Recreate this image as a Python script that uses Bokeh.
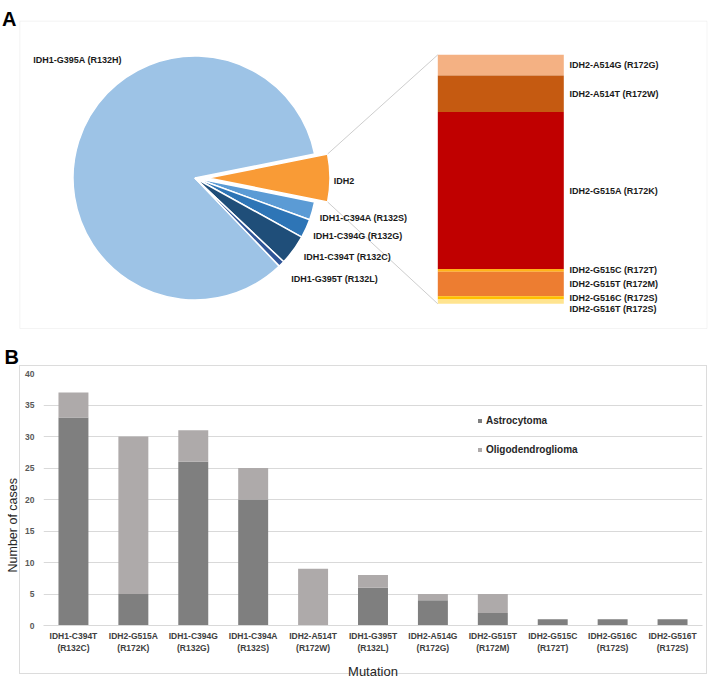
import numpy as np
from bokeh.plotting import figure
from bokeh.layouts import column
from bokeh.models import (ColumnDataSource, Range1d, FixedTicker, Title,
                          Legend, LegendItem, BoxAnnotation)
from bokeh.core.properties import value
from bokeh.embed import file_html
from bokeh.resources import INLINE

FONT = "Liberation Sans"

# ---------------- Panel A data ----------------
pie_labels = ["IDH1-G395A (R132H)", "IDH2", "IDH1-C394A (R132S)",
              "IDH1-C394G (R132G)", "IDH1-C394T (R132C)", "IDH1-G395T (R132L)"]
pie_values = [84.0, 6.3, 2.4, 2.5, 4.0, 0.8]          # percent of cases
pie_colors = ["#9DC3E6", "#F99B36", "#5B9BD5", "#2E75B6", "#1F4E79", "#2F5597"]

idh2_labels = ["IDH2-A514G (R172G)", "IDH2-A514T (R172W)", "IDH2-G515A (R172K)",
               "IDH2-G515C (R172T)", "IDH2-G515T (R172M)", "IDH2-G516C (R172S)",
               "IDH2-G516T (R172S)"]
idh2_values = [8.3, 14.7, 63.0, 1.1, 9.9, 1.3, 1.7]   # percent of IDH2
idh2_colors = ["#F4B183", "#C55A11", "#C00000", "#FFB31A", "#ED7D31", "#FFC000", "#FFE48F"]

# ---------------- Panel B data ----------------
mutations = ["IDH1-C394T\n(R132C)", "IDH2-G515A\n(R172K)", "IDH1-C394G\n(R132G)",
             "IDH1-C394A\n(R132S)", "IDH2-A514T\n(R172W)", "IDH1-G395T\n(R132L)",
             "IDH2-A514G\n(R172G)", "IDH2-G515T\n(R172M)", "IDH2-G515C\n(R172T)",
             "IDH2-G516C\n(R172S)", "IDH2-G516T\n(R172S)"]
astrocytoma = [33, 5, 26, 20, 0, 6, 4, 2, 1, 1, 1]
oligodendroglioma = [4, 25, 5, 5, 9, 2, 1, 3, 0, 0, 0]
y_ticks = [0, 5, 10, 15, 20, 25, 30, 35, 40]

W = 709
HA = 336
HB = 345

# =============== Figure A ===============
pa = figure(width=W, height=HA, x_range=Range1d(0, W), y_range=Range1d(0, HA),
            output_backend="svg", toolbar_location=None, min_border=0,
            x_axis_location=None, y_axis_location=None)
pa.grid.visible = False
pa.outline_line_color = None


def P(px, py):
    return px, HA - py


fl, ft = P(19.3, 20.7)
fr, fb = P(706.5, 328)
pa.add_layout(BoxAnnotation(left=fl, right=fr, top=ft, bottom=fb, fill_alpha=0,
                            line_color="#dcdcdc", line_width=1))

cx, cy = P(194.5, 177.5)
R = 122
EXPLODE = 13
deg = np.array(pie_values) / sum(pie_values) * 360.0
half = deg[1] / 2
starts, ends, xs, ys = [], [], [], []
starts.append(half); ends.append(half + deg[0]); xs.append(cx); ys.append(cy)
starts.append(-half); ends.append(half); xs.append(cx + EXPLODE); ys.append(cy)
a = -half
for k in range(2, len(deg)):
    ends.append(a); starts.append(a - deg[k]); xs.append(cx); ys.append(cy)
    a = a - deg[k]
pie_src = ColumnDataSource(dict(x=xs, y=ys, start=np.radians(starts), end=np.radians(ends),
                                color=pie_colors, label=pie_labels))
pa.wedge(x="x", y="y", radius=R, start_angle="start", end_angle="end",
         fill_color="color", line_color="white", line_width=1.5, source=pie_src)

# bar of pie
bl, btop = P(437.3, 54.3)
br, bbot = P(563.3, 303.3)
vals = np.array(idh2_values)
hts = vals / vals.sum() * (btop - bbot)
tops = btop - np.concatenate([[0], np.cumsum(hts)[:-1]])
bots = tops - hts
bar_src = ColumnDataSource(dict(left=[bl] * len(vals), right=[br] * len(vals),
                                top=tops, bottom=bots, color=idh2_colors))
pa.quad(left="left", right="right", top="top", bottom="bottom", fill_color="color",
        line_color=None, source=bar_src)

ex = cx + EXPLODE
hr = np.radians(half)
pa.segment(x0=[ex + R * np.cos(hr), ex + R * np.cos(hr)],
           y0=[cy + R * np.sin(hr), cy - R * np.sin(hr)],
           x1=[bl, bl], y1=[btop, bbot], line_color="#c0c0c0", line_width=0.8)

# pie labels (outside end)
pie_label_pos = [(32.7, 59.3), (333.3, 180.0), (319.3, 217.3), (312.7, 235.0),
                 (303.3, 256.7), (290.7, 278.3)]
plx = [P(*p)[0] for p in pie_label_pos]
ply = [P(*p)[1] for p in pie_label_pos]
pa.text(x=plx, y=ply, text=pie_labels, text_font=value(FONT), text_font_style="bold",
        text_font_size="9px", text_baseline="middle", text_align="left", text_color="#1a1a1a")

centres = (tops + bots) / 2
ly = []
for c in centres:
    if ly and ly[-1] - c < 10.8:
        c = ly[-1] - 10.8
    ly.append(c)
lx, _ = P(569, 0)
pa.text(x=[lx] * len(ly), y=ly, text=idh2_labels, text_font=value(FONT), text_font_style="bold",
        text_font_size="9px", text_baseline="middle", text_align="left", text_color="#1a1a1a")

ax, ay = P(1.5, 18.3)
pa.text(x=[ax], y=[ay], text=["A"], text_font=value(FONT), text_font_style="bold",
        text_font_size="20px", text_baseline="alphabetic", text_align="left", text_color="black")

# =============== Figure B ===============
FL, FR = 42, 702
FT, FB = 373, 626
pb = figure(width=W, height=HB, x_range=Range1d(-0.5, len(mutations) - 0.5),
            y_range=Range1d(0, 40), output_backend="svg", toolbar_location=None,
            min_border_left=FL, min_border_right=W - FR,
            min_border_top=FT - HA, min_border_bottom=HA + HB - FB)
pb.outline_line_color = None
pb.border_fill_color = None
pb.background_fill_color = None
# light panel frame drawn behind the (transparent) canvas
g = "linear-gradient(#dcdcdc,#dcdcdc)"
pb.styles = {"background": (f"{g} 19px 29px / 688px 1px no-repeat, "
                            f"{g} 19px 337px / 688px 1px no-repeat, "
                            f"{g} 19px 29px / 1px 309px no-repeat, "
                            f"{g} 706px 29px / 1px 309px no-repeat")}

xpos = list(range(len(mutations)))
src = ColumnDataSource(dict(x=xpos, Astrocytoma=astrocytoma,
                            Oligodendroglioma=oligodendroglioma))
rs = pb.vbar_stack(["Astrocytoma", "Oligodendroglioma"], x="x", width=0.5,
                   fill_color=["#7F7F7F", "#AEAAAA"], line_color=None, source=src)

pb.xgrid.grid_line_color = None
pb.ygrid.grid_line_color = "#d9d9d9"
pb.yaxis.ticker = FixedTicker(ticks=y_ticks)
pb.yaxis.axis_line_color = None
pb.yaxis.major_tick_line_color = None
pb.yaxis.major_tick_out = 0
pb.yaxis.major_tick_in = 0
pb.yaxis.minor_tick_line_color = None
pb.yaxis.minor_tick_out = 0
pb.yaxis.major_label_standoff = 9
pb.yaxis.major_label_text_font = FONT
pb.yaxis.major_label_text_font_style = "bold"
pb.yaxis.major_label_text_font_size = "8.5px"
pb.yaxis.major_label_text_color = "#595959"

pb.xaxis.ticker = FixedTicker(ticks=xpos)
pb.xaxis.major_label_overrides = {i: m for i, m in zip(xpos, mutations)}
pb.xaxis.axis_line_color = "#d9d9d9"
pb.xaxis.major_tick_line_color = None
pb.xaxis.major_tick_out = 0
pb.xaxis.major_tick_in = 0
pb.xaxis.minor_tick_line_color = None
pb.xaxis.minor_tick_out = 0
pb.xaxis.major_label_standoff = 5
pb.xaxis.major_label_text_font = FONT
pb.xaxis.major_label_text_font_style = "bold"
pb.xaxis.major_label_text_font_size = "8.5px"
pb.xaxis.major_label_text_color = "#404040"
pb.xaxis.axis_label = "Mutation"
pb.xaxis.axis_label_text_font = FONT
pb.xaxis.axis_label_text_font_style = "normal"
pb.xaxis.axis_label_text_font_size = "13px"
pb.xaxis.axis_label_text_color = "#262626"
pb.xaxis.axis_label_standoff = 8

pb.title.text = "B"
pb.title.align = "left"
pb.title.offset = -39
pb.title.standoff = 11
pb.title.text_font = FONT
pb.title.text_font_style = "bold"
pb.title.text_font_size = "20px"
pb.title.text_color = "black"

pb.add_layout(Title(text="Number of cases", align="left", offset=53, standoff=6,
                    text_font=FONT, text_font_style="normal", text_font_size="12.5px",
                    text_color="#262626"), "left")

legend = Legend(items=[LegendItem(label="Astrocytoma", renderers=[rs[0]]),
                       LegendItem(label="Oligodendroglioma", renderers=[rs[1]])],
                location=(434, 169), orientation="vertical",
                glyph_width=5, glyph_height=5, label_height=14, spacing=15,
                label_standoff=4, padding=0, margin=0,
                border_line_color=None, background_fill_alpha=0,
                label_text_font=FONT, label_text_font_style="bold",
                label_text_font_size="10px", label_text_color="#262626",
                label_text_baseline="middle")
pb.add_layout(legend, "center")

layout = column(pa, column(pb, spacing=0), spacing=0)
open("out.html", "w").write(file_html(layout, INLINE))
